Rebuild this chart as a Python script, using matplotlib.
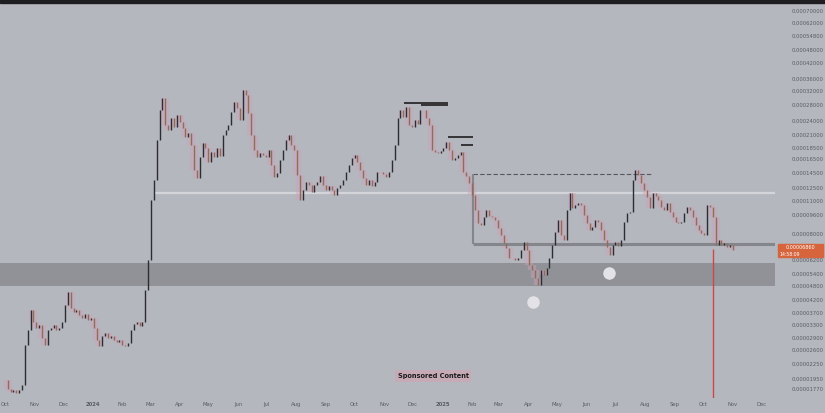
import matplotlib
matplotlib.use('Agg')
import matplotlib.pyplot as plt
from matplotlib.patches import Rectangle
import pandas as pd

# closes of 3-day candles, starting 2023-10-01
closes = [
    0.0000193, 0.0000177, 0.0000172, 0.0000175, 0.0000170, 0.0000175, 0.0000184, 0.0000272, 0.0000315, 0.0000382,
    0.0000340, 0.0000320, 0.0000330, 0.0000291, 0.0000272, 0.0000315, 0.0000320, 0.0000330, 0.0000315, 0.0000320,
    0.0000340, 0.0000401, 0.0000455, 0.0000389, 0.0000375, 0.0000382, 0.0000364, 0.0000354, 0.0000367, 0.0000347,
    0.0000354, 0.0000320, 0.0000285, 0.0000269, 0.0000297, 0.0000306, 0.0000291, 0.0000297, 0.0000285, 0.0000280,
    0.0000285, 0.0000272, 0.0000269, 0.0000277, 0.0000315, 0.0000334, 0.0000340, 0.0000327, 0.0000340, 0.0000464,
    0.0000621, 0.0001114, 0.0001353, 0.0001996, 0.0002672, 0.0003003, 0.0002310, 0.0002200, 0.0002472, 0.0002265,
    0.0002545, 0.0002378, 0.0002243, 0.0002055, 0.0002137, 0.0001901, 0.0001491, 0.0001379, 0.0001692, 0.0001939,
    0.0001846, 0.0001611, 0.0001776, 0.0001692, 0.0001846, 0.0001708, 0.0002095, 0.0002200, 0.0002310, 0.0002620,
    0.0002888, 0.0002724, 0.0002425, 0.0003246, 0.0003092, 0.0002595, 0.0002095, 0.0001811, 0.0001692, 0.0001759,
    0.0001725, 0.0001692, 0.0001811, 0.0001565, 0.0001393, 0.0001448, 0.0001643, 0.0001811, 0.0001996, 0.0002095,
    0.0001901, 0.0001811, 0.0001420, 0.0001114, 0.0001227, 0.0001327, 0.0001289, 0.0001203, 0.0001289, 0.0001327,
    0.0001406, 0.0001289, 0.0001227, 0.0001277, 0.0001227, 0.0001169, 0.0001252, 0.0001289, 0.0001353, 0.0001462,
    0.0001565, 0.0001675, 0.0001725, 0.0001611, 0.0001491, 0.0001379, 0.0001289, 0.0001353, 0.0001277, 0.0001327,
    0.0001462, 0.0001462, 0.0001434, 0.0001393, 0.0001462, 0.0001643, 0.0001901, 0.0002472, 0.0002672, 0.0002496,
    0.0002751, 0.0002310, 0.0002265, 0.0002425, 0.0002332, 0.0002672, 0.0002672, 0.0002472, 0.0002310, 0.0001811,
    0.0001776, 0.0001759, 0.0001793, 0.0001846, 0.0001957, 0.0001811, 0.0001643, 0.0001675, 0.0001725, 0.0001776,
    0.0001462, 0.0001406, 0.0001314, 0.0001169, 0.0001010, 0.0000891, 0.0000873, 0.0000943, 0.0001010, 0.0000953,
    0.0000943, 0.0000917, 0.0000848, 0.0000792, 0.0000733, 0.0000698, 0.0000633, 0.0000633, 0.0000621, 0.0000633,
    0.0000685, 0.0000740, 0.0000685, 0.0000592, 0.0000564, 0.0000522, 0.0000487, 0.0000564, 0.0000537, 0.0000575,
    0.0000633, 0.0000719, 0.0000816, 0.0000917, 0.0000792, 0.0000755, 0.0001010, 0.0001192, 0.0001030, 0.0001061,
    0.0001082, 0.0001061, 0.0000962, 0.0000891, 0.0000832, 0.0000856, 0.0000917, 0.0000899, 0.0000832, 0.0000755,
    0.0000705, 0.0000652, 0.0000719, 0.0000740, 0.0000712, 0.0000755, 0.0000899, 0.0000981, 0.0000990, 0.0001353,
    0.0001491, 0.0001420, 0.0001314, 0.0001227, 0.0001146, 0.0001030, 0.0001192, 0.0001158, 0.0001114, 0.0001041,
    0.0001010, 0.0001082, 0.0000990, 0.0000943, 0.0000899, 0.0000891, 0.0000899, 0.0000981, 0.0001041, 0.0001010,
    0.0000943, 0.0000873, 0.0000832, 0.0000808, 0.0000792, 0.0001061, 0.0001041, 0.0000943, 0.0000719, 0.0000755,
    0.0000719, 0.0000733, 0.0000705, 0.0000719, 0.0000685,
]
start_date = '2023-10-01'
candle_step = '3D'

price_ticks = [0.0007, 0.00062, 0.000548, 0.00048, 0.00042, 0.00036, 0.00032, 0.00028,
               0.00024, 0.00021, 0.000185, 0.000165, 0.000145, 0.000125, 0.00011, 0.000096,
               0.00008, 0.000062, 0.000054, 0.000048, 0.000042, 0.000037, 0.000033, 0.000029,
               0.000026, 0.0000225, 0.0000195, 0.0000177]

# zones and drawings
zone_low, zone_high = 0.0000482, 0.0000603
light_level, light_start = 0.0001192, '2024-03-05'
box_top, box_bottom = 0.0001434, 0.0000726
box_start, box_top_end = '2025-02-02', '2025-08-07'
black_lines = [  # (price, start, end)
    (0.0002861, '2024-11-22', '2025-01-07'),
    (0.0002805, '2024-12-10', '2025-01-07'),
    (0.0002055, '2025-01-07', '2025-02-02'),
    (0.0001896, '2025-01-20', '2025-02-02'),
]
circles = [('2025-04-06', 0.0000413), ('2025-06-24', 0.0000548)]
crash_date, crash_top, crash_low = '2025-10-11', 0.0000690, 0.0000160
last_price_text = '0.00006860'
countdown_text = '14:58:09'

bg = '#b5b7be'
fig = plt.figure(figsize=(8.25, 4.13), dpi=100, facecolor=bg)
ax = fig.add_axes([0, 15 / 413, 775 / 825, 395 / 413])
ax.set_facecolor(bg)
ax.set_yscale('log')

dates = pd.date_range(start_date, periods=len(closes), freq=candle_step)
opens = [closes[0]] + closes[:-1]
up = [c >= o for o, c in zip(opens, closes)]
cols = ['#2c2d32' if u else '#8e6e5b' for u in up]
lo = [min(o, c) for o, c in zip(opens, closes)]
hi = [max(o, c) for o, c in zip(opens, closes)]
# pinkish halo behind falling candles
down_d = [d for d, u in zip(dates, up) if not u]
down_lo = [l for l, u in zip(lo, up) if not u]
down_hi = [h for h, u in zip(hi, up) if not u]
ax.vlines(down_d, down_lo, down_hi, colors='#cfa3b8', lw=6, alpha=0.45, zorder=3)
ax.vlines(dates, lo, hi, colors=cols, lw=1.0, zorder=4)

ax.axhspan(zone_low, zone_high, color='#909298', zorder=1, lw=0)
ax.hlines(light_level, pd.Timestamp(light_start), pd.Timestamp('2026-01-01'),
          color='#d3d5da', lw=1.6, zorder=2)
ax.hlines(box_top, pd.Timestamp(box_start), pd.Timestamp(box_top_end),
          color='#56585e', lw=0.8, ls=(0, (4, 2)), zorder=3)
ax.vlines(pd.Timestamp(box_start), box_bottom, box_top, color='#84868c', lw=1.5, zorder=3)
ax.hlines(box_bottom, pd.Timestamp(box_start), pd.Timestamp('2026-01-01'),
          color='#84868c', lw=2.2, zorder=3)
for p, s, e in black_lines:
    ax.hlines(p, pd.Timestamp(s), pd.Timestamp(e), color='#111111', lw=1.1, zorder=5)
for d, p in circles:
    ax.plot(pd.Timestamp(d), p, 'o', ms=9, color='#e3e3e7', mec='none', zorder=6)
ax.vlines(pd.Timestamp(crash_date), crash_low, crash_top, color='#c9494b', lw=1.0, zorder=5)

ax.set_xlim(pd.Timestamp('2023-09-26'), pd.Timestamp('2025-12-15'))
ax.set_ylim(0.00001623, 0.0007557)

# axes styling
for s in ax.spines.values():
    s.set_visible(False)
ax.yaxis.tick_right()
ax.set_yticks(price_ticks)
ax.set_yticklabels([f'{v:.8f}' for v in price_ticks])
ax.yaxis.set_minor_locator(matplotlib.ticker.NullLocator())
ax.tick_params(axis='y', length=0, pad=12, labelsize=3.8, labelcolor='#585b63')

months = pd.date_range('2023-10-01', '2025-12-01', freq='MS')
ax.set_xticks(months)
labels = [m.strftime('%Y') if m.month == 1 else m.strftime('%b') for m in months]
ax.set_xticklabels(labels)
for t, m in zip(ax.get_xticklabels(), months):
    if m.month == 1:
        t.set_fontweight('bold')
ax.tick_params(axis='x', length=0, pad=3, labelsize=3.8, labelcolor='#585b63')

# top strip
fig.patches.append(Rectangle((0, 1 - 3 / 413), 1, 3 / 413, transform=fig.transFigure,
                             color='#1e1e21', zorder=10))
# last price box
fig.patches.append(Rectangle((778 / 825, 1 - 257 / 413), 45 / 825, 13 / 413,
                             transform=fig.transFigure, color='#d6643d', zorder=10))
fig.text(800 / 825, 1 - 247.5 / 413, last_price_text, fontsize=3.5, color='white',
         ha='center', va='center', zorder=11)
fig.text(790 / 825, 1 - 254 / 413, countdown_text, fontsize=3.3, color='white',
         ha='center', va='center', zorder=11)

fig.text(433 / 825, 1 - 376 / 413, 'Sponsored Content', fontsize=4.8, fontweight='bold',
         color='#1d1d1f', ha='center', va='center',
         bbox=dict(boxstyle='square,pad=0.4', fc='#c6aab6', ec='none'))

fig.savefig('out.png', dpi=100, facecolor=bg)
